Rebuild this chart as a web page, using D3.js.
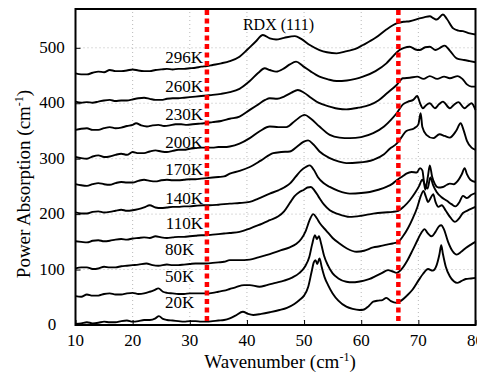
<!DOCTYPE html>
<html>
<head>
<meta charset="utf-8">
<script src="https://cdn.jsdelivr.net/npm/d3@7"></script>
<style>
  body { margin: 0; background: #fff; }
  #wrap { position: relative; width: 477px; height: 374px; overflow: hidden; }
  #wrap svg { position: absolute; left: 0; top: 0; display: block; }
  .lbl { position: absolute; white-space: nowrap; line-height: normal; color: #000;
         font-family: "Liberation Serif", serif; }
  .lbl .sup { font-size: 12px; position: relative; top: -7px; }
</style>
</head>
<body>
<div id="wrap"><svg id="chart" width="477" height="374"></svg></div>
<script>
// Temperature series, low to high; each curve is [wavenumber (cm-1), absorption (cm-1, offset)]
const temps = ["20K", "50K", "80K", "110K", "140K", "170K", "200K", "230K", "260K", "296K"];

const s20K = [[10,2],[11,3],[12,5],[13,3],[14,4],[15,6],[16,5],[17,5],[18,7],[19,8],[20,6],[21,7],[22,9],[23,9],[24,12],[24.6,16],[25.3,11],[26,9],[27,8],[28,7],[29,6],[30,7],[31,7],[32,6],[33,6],[34,7],[35,8],[36,9],[37,12],[38,17],[39.3,24],[40.2,20],[41.1,18],[42.5,20],[44,23],[45.7,27],[47,31],[48.3,38],[49.2,45],[50,53],[50.7,68],[51.3,95],[51.7,113],[52.0,117],[52.3,110],[52.7,120],[53.1,104],[53.6,86],[54.2,72],[55,57],[56,44],[57.4,33],[58.5,29],[59.7,27],[60.5,28],[61.3,34],[62.1,42],[63,44],[63.7,45],[64.4,49],[65.2,43],[66.2,40],[67,44],[68,53],[69,64],[70,80],[70.8,92],[71.7,101],[72.5,98],[73.2,108],[73.7,128],[74.0,144],[74.3,128],[74.8,105],[75.5,88],[76.2,79],[76.8,76],[77.5,79],[78.3,83],[79.2,84],[80,85]];

const s50K = [[10,52],[11,51],[12,55],[13,53],[14,53],[15,56],[16,57],[17,55],[18,55],[19,57],[20,58],[21,56],[22,57],[23,60],[23.8,63],[24.5,66],[25.3,60],[26,58],[27,57],[28,56],[29,56],[30,57],[31,57],[32,57],[33,57],[34,58],[35,60],[36,62],[37,65],[38,68],[39.5,72],[40.5,72],[42.2,69],[43.5,72],[45,76],[46.5,80],[48,86],[49.2,94],[50.2,106],[50.9,122],[51.4,145],[51.9,162],[52.25,155],[52.6,160],[53.0,146],[53.5,125],[54.2,107],[55,93],[56,84],[57.4,78],[58.5,77],[59.5,78],[60.5,80],[61.5,83],[62.5,88],[63.5,93],[64.7,99],[65.4,97],[66.2,94],[67,100],[68,115],[69,135],[69.8,152],[70.5,166],[71.1,173],[71.6,166],[72.3,160],[73,168],[73.6,178],[74,180],[74.5,172],[75.2,150],[76,133],[76.7,127],[77.5,132],[78.3,139],[79.2,145],[80,150]];

const s80K = [[10,102],[11,104],[12,104],[13,101],[14,102],[15,105],[16,104],[17,104],[18,106],[19,107],[20,108],[21,109],[22.4,111],[23.5,108],[24.5,107],[26,109],[27,108],[28,108],[29,109],[30,110],[31,111],[32,111],[33,111],[34,112],[35,113],[36,114],[37,117],[38.5,117],[40.5,118],[42,122],[44,128],[46,135],[47.5,140],[48.6,146],[49.5,155],[50.3,170],[51,190],[51.6,200],[52.2,193],[52.8,183],[53.9,170],[55,157],[56.2,147],[57.5,138],[59.2,132],[60.5,134],[62.1,140],[63.2,142],[64.5,145],[65.5,147],[66.5,150],[67.3,160],[68.2,175],[69,192],[69.8,212],[70.4,232],[70.9,242],[71.3,232],[71.7,222],[72.2,230],[72.6,236],[73.0,222],[73.5,213],[74.1,216],[74.8,206],[75.6,194],[76.4,186],[77.1,192],[77.8,202],[78.5,206],[79.3,210],[80,213]];

const s110K = [[10,151],[11,150],[12,149],[13,152],[14,153],[15,151],[16,152],[17,154],[18,155],[19,154],[20,156],[21,157],[22,158],[23,157],[24,160],[25,158],[26,157],[27,158],[28,159],[29,159],[30,160],[31,161],[32,162],[33,162],[34,163],[35,164],[36,165],[37,166],[38.7,168],[40.5,174],[42,180],[44,189],[45.5,196],[46.5,205],[47.5,220],[48.3,232],[49.2,240],[50,244],[50.6,248],[51.2,249],[51.8,243],[52.5,232],[53.5,217],[54.5,207],[56,200],[58,195],[60,197],[62.1,201],[64,203],[65.5,204],[66.5,206],[67.5,214],[68.5,225],[69.4,238],[70.1,250],[70.7,262],[71.2,252],[71.6,246],[72.1,266],[72.6,252],[73.2,240],[74,231],[75,224],[75.8,218],[76.5,214],[77.2,222],[77.8,233],[78.5,229],[79.3,235],[80,238]];

const s140K = [[10,203],[11,201],[12,201],[13,204],[14,205],[15,203],[16,204],[17,206],[18,208],[19,206],[20,207],[21,209],[22,212],[23,216],[24,212],[25,211],[26,212],[27,213],[28,213],[29,214],[30,214],[31,215],[32.3,216],[33.5,216],[35,217],[37,219],[38.7,220],[40.5,222],[42,228],[44,237],[45.5,243],[46.5,248],[47.5,255],[48.5,267],[49.5,279],[50.3,285],[51,288],[51.7,280],[52.4,267],[53.4,256],[54.5,249],[56,242],[58,237],[60,238],[61.5,240],[63,244],[64.4,249],[65.5,255],[66.2,261],[67.2,268],[67.9,273],[68.8,276],[69.7,275],[70.3,283],[70.7,279],[71.2,244],[71.7,270],[72.0,288],[72.4,268],[72.9,254],[73.5,248],[74.3,249],[75.0,253],[75.5,255],[76.2,254],[76.9,260],[77.6,272],[78.1,283],[78.5,272],[79.1,262],[80,258]];

const s170K = [[10,254],[11,252],[12,251],[13,254],[14,256],[15,254],[16,253],[17,256],[18,258],[19,257],[20,257],[21,260],[22,262],[23,260],[24,259],[25,261],[26,262],[27,261],[28,261],[29,262],[30,263],[31,263],[32,264],[33,265],[34,266],[35,267],[36,268],[37,273],[38.7,278],[40.5,285],[42.5,297],[44.6,310],[46,312],[47.5,313],[48.8,322],[49.8,330],[50.7,333],[51.6,326],[52.7,313],[54.5,301],[56,295],[57.4,292],[59.5,293],[62.1,298],[64,308],[65,318],[66.2,327],[67,338],[67.9,350],[69.3,355],[70.0,362],[70.4,382],[70.7,357],[71.4,343],[72.6,337],[73.7,344],[74.6,341],[75.5,338],[76.6,350],[77.4,364],[77.9,352],[78.5,332],[79.3,320],[80,316]];

const s200K = [[10,303],[11,301],[12,300],[13,304],[14,306],[15,303],[16,304],[17,307],[18,309],[19,307],[20,312],[21,310],[22,310],[23,313],[24,315],[25,313],[26,312],[27,314],[28,316],[29,316],[30,318],[31,319],[32,320],[33,320],[34,320],[35,321],[36,321],[37,322],[38.7,327],[40.5,337],[42.3,350],[44,358],[45.5,357],[46.9,357],[48.5,369],[50.1,379],[51.2,372],[52.7,358],[54.5,343],[56.2,338],[58,337],[60,339],[62.1,346],[64,358],[65.2,370],[66.2,382],[67.3,398],[68.2,403],[69.1,406],[69.8,413],[70.3,400],[70.8,391],[71.4,397],[72,400],[72.9,391],[73.6,398],[74.3,403],[75.5,391],[76.2,397],[77,402],[78.1,391],[78.7,396],[79.3,400],[80,388]];

const s230K = [[10,352],[11,354],[12,355],[13,352],[14,352],[15,355],[16,357],[17,355],[18,356],[19,359],[20,361],[20.6,364],[21.5,360],[22.5,358],[23.5,360],[24.5,361],[25.5,359],[26.5,360],[27.5,362],[28.5,362],[29.5,361],[30.5,362],[31.5,363],[32.5,364],[34,366],[35.5,368],[37,372],[38.7,376],[40.5,388],[42,398],[43.2,406],[44,409],[45.3,408],[46.5,412],[47.8,419],[48.9,424],[50,419],[51.2,410],[52.5,401],[54.5,394],[56,390],[57.4,389],[59.5,392],[61.5,397],[63,405],[64.5,418],[66.2,433],[67.3,445],[68.5,446],[69.8,448],[70.9,444],[72,449],[73.3,444],[74.5,448],[75.5,445],[76.9,449],[77.7,444],[78.5,434],[79.3,430],[80,430]];

const s260K = [[10,403],[11,401],[12,402],[13,401],[14,403],[15,405],[16,406],[17,404],[18,405],[19,405],[20,407],[21,409],[22,410],[23,408],[24,406],[25,406],[26,408],[27,409],[28,409],[29,410],[30,411],[31,412],[32,413],[33,414],[34,415],[35.5,417],[37,420],[38.7,426],[40.5,440],[42,455],[43.1,463],[44,460],[45.1,457],[46.5,463],[47.5,470],[48.6,475],[49.8,467],[51.2,457],[52.7,448],[54.2,443],[55.7,440],[57.5,441],[59,444],[60.3,448],[62.5,458],[64.4,472],[65.5,484],[66.7,496],[67.5,500],[68.5,502],[69.5,497],[70.2,496],[71.2,501],[72,502],[73,496],[73.8,500],[74.6,504],[75.5,495],[76.7,481],[78,478],[79,476],[80,474]];

const s296K = [[10,454],[11,452],[12,452],[13,455],[14,457],[15,456],[16,460],[17,458],[18,458],[19,459],[20,461],[21,459],[22,458],[23,458],[24,460],[25,461],[26,462],[27,461],[28,462],[29,462],[30,463],[31,464],[32,466],[33,467],[34,469],[35.5,472],[37,476],[38.7,484],[40,496],[41.5,511],[42.8,523],[44,517],[45.1,515],[46.5,518],[48.4,521],[49.5,516],[51,505],[52.7,496],[54,492],[55.7,490],[57.5,494],[59,498],[60.3,505],[62.5,518],[64.4,533],[66.2,544],[67.5,547],[68.5,548],[70.2,553],[71,555],[72,557],[72.7,553],[73.2,551],[74.3,560],[75,552],[76.1,535],[77,531],[77.8,530],[79,526],[80,524]];

const seriesList = [s20K, s50K, s80K, s110K, s140K, s170K, s200K, s230K, s260K, s296K];

// Absorption level and wavenumber where each temperature label sits
const labelLevel = [39, 87, 135, 183, 228, 279, 328, 379, 430, 481];
const labelEndWn = [30.8, 30.8, 30.8, 32.3, 32.3, 32.3, 32.3, 32.3, 32.3, 32.3];

// Reference wavenumbers marked with dotted red lines
const markerWn = [33.0, 66.5];

const xTicks = [10, 20, 30, 40, 50, 60, 70, 80];
const yTicks = [0, 100, 200, 300, 400, 500];

const annotation = { text: "RDX (111)", wn: 39.3, level: 541 };

// ---- layout ----
const wrap = d3.select("#wrap");
const svg = d3.select("#chart");
const x = d3.scaleLinear().domain([10, 80]).range([75.5, 475.5]);
const y = d3.scaleLinear().domain([0, 570]).range([325, 9]);
const [x0, x1] = x.range();
const [yb, yt] = y.range();

// text helper: (px, py) is the anchor; ax is 0 = left, 0.5 = centre, 1 = right; text is vertically centred
function label(html, px, py, ax, size, rotate) {
  const tr = `translate(${-ax * 100}%, -50%)` + (rotate ? ` rotate(${rotate}deg)` : "");
  return wrap.append("div").attr("class", "lbl")
    .style("left", px + "px").style("top", py + "px")
    .style("font-size", size + "px")
    .style("transform", tr).style("transform-origin", "50% 50%")
    .html(html);
}

// grid
const grid = svg.append("g").attr("stroke", "#b8b8b8").attr("stroke-width", 1)
  .attr("stroke-dasharray", "1,3");
grid.selectAll("line.v").data(xTicks.slice(1, -1)).join("line")
  .attr("x1", d => x(d)).attr("x2", d => x(d)).attr("y1", yb).attr("y2", yt);
grid.selectAll("line.h").data(yTicks.slice(1)).join("line")
  .attr("x1", x0).attr("x2", x1).attr("y1", d => y(d)).attr("y2", d => y(d));

// axes: inward ticks from d3, numbers set in the serif face alongside
const xAxis = d3.axisBottom(x).tickValues(xTicks).tickFormat("")
  .tickSizeInner(-5).tickSizeOuter(0);
const gx = svg.append("g").attr("transform", `translate(0,${yb})`).call(xAxis);
const yAxis = d3.axisLeft(y).tickValues(yTicks).tickFormat("")
  .tickSizeInner(-5).tickSizeOuter(0);
const gy = svg.append("g").attr("transform", `translate(${x0},0)`).call(yAxis);
[gx, gy].forEach(g => {
  g.select(".domain").remove();
  g.selectAll(".tick line").attr("stroke", "#000");
  g.selectAll(".tick text").remove();
});
const fmt = d3.format("d");
xTicks.forEach(t => label(fmt(t), x(t), 341, 0.5, 17));
yTicks.forEach(t => label(fmt(t), 52, y(t), 0.5, 17));

// curves
const line = d3.line().x(d => x(d[0])).y(d => y(d[1])).curve(d3.curveMonotoneX);
svg.append("g").selectAll("path").data(seriesList).join("path")
  .attr("d", line).attr("fill", "none").attr("stroke", "#000")
  .attr("stroke-width", 1.9).attr("stroke-linejoin", "round");

// marker lines
svg.append("g").selectAll("line").data(markerWn).join("line")
  .attr("x1", d => x(d)).attr("x2", d => x(d)).attr("y1", yt + 1).attr("y2", yb - 1)
  .attr("stroke", "#ff0000").attr("stroke-width", 4.5).attr("stroke-dasharray", "5,3.5");

// frame
svg.append("rect").attr("x", x0).attr("y", yt).attr("width", x1 - x0).attr("height", yb - yt)
  .attr("fill", "none").attr("stroke", "#000").attr("stroke-width", 2);

// temperature labels
temps.forEach((t, i) => label(t, x(labelEndWn[i]), y(labelLevel[i]), 1, 17));

// annotation
label(annotation.text, x(annotation.wn), y(annotation.level), 0, 16);

// axis titles
label('Wavenumber (cm<span class="sup">-1</span>)', 280, 362, 0.5, 19);
label('Power Absorption (cm<span class="sup">-1</span>)', 24, 183.5, 0.5, 19, -90);
</script>
</body>
</html>
